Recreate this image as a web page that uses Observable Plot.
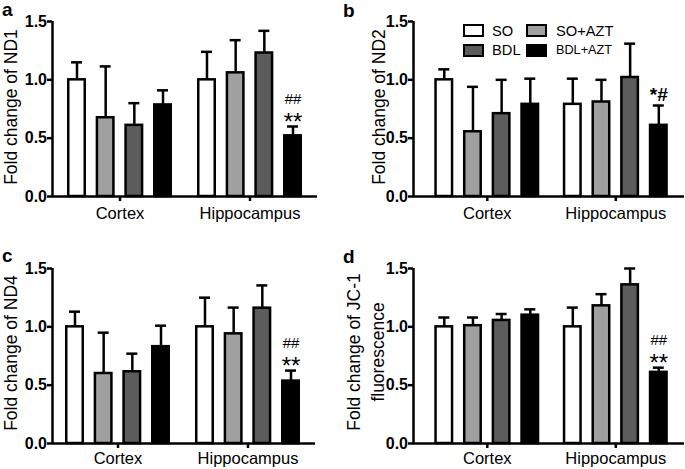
<!DOCTYPE html>
<html>
<head>
<meta charset="utf-8">
<script src="https://cdn.jsdelivr.net/npm/d3@7"></script>
<script src="https://cdn.jsdelivr.net/npm/@observablehq/plot@0.6"></script>
<style>
  body { margin: 0; background: #fff; }
  #fig { position: relative; width: 685px; height: 469px; background: #fff; overflow: hidden;
         font-family: 'Liberation Sans', Arial, Helvetica, sans-serif; color: #000; }
  .panel { position: absolute; }
  .letter { position: absolute; font-weight: bold; font-size: 19px; line-height: 19px; }
  .sw { position: absolute; box-sizing: border-box; width: 21px; height: 13px; border: 2.5px solid #000; }
  .lab { position: absolute; line-height: 16px; white-space: nowrap; }
</style>
</head>
<body>
<div id="fig"></div>
<script>
// ---------------- data ----------------
const tissues = ["Cortex", "Hippocampus"];
const groups = ["SO", "SO+AZT", "BDL", "BDL+AZT"];
const groupFills = ["#ffffff", "#a0a0a0", "#5c5c5c", "#000000"];
const yTicks = [0, 0.5, 1.0, 1.5];
const panelLetters = ["a", "b", "c", "d"];

// values indexed [tissue][group]
const nd1Mean = [[1.00, 0.675, 0.61, 0.785], [1.00, 1.06, 1.23, 0.52]];
const nd1Sem  = [[0.15, 0.44, 0.19, 0.125], [0.24, 0.28, 0.19, 0.08]];
const nd2Mean = [[1.00, 0.555, 0.71, 0.79], [0.79, 0.81, 1.02, 0.61]];
const nd2Sem  = [[0.09, 0.385, 0.29, 0.22], [0.22, 0.19, 0.29, 0.17]];
const nd4Mean = [[1.00, 0.60, 0.615, 0.83], [1.00, 0.94, 1.16, 0.535]];
const nd4Sem  = [[0.13, 0.35, 0.155, 0.18], [0.25, 0.225, 0.195, 0.09]];
const jc1Mean = [[1.00, 1.01, 1.055, 1.10], [1.00, 1.18, 1.36, 0.61]];
const jc1Sem  = [[0.08, 0.07, 0.055, 0.05], [0.165, 0.10, 0.14, 0.04]];

// significance marks: [tissue, group, star line, hash line]
const nd1Sig = [["Hippocampus", "BDL+AZT", "**", "##"]];
const nd2Sig = [["Hippocampus", "BDL+AZT", "*#", ""]];
const nd4Sig = [["Hippocampus", "BDL+AZT", "**", "##"]];
const jc1Sig = [["Hippocampus", "BDL+AZT", "**", "##"]];

const titles = ["Fold change of ND1", "Fold change of ND2", "Fold change of ND4", "Fold change of JC-1\nfluorescence"];

// ---------------- layout constants ----------------
const B = 105;      // band width holding the four bars
const W = 19;       // outer bar width
const S = (B - W) / 3; // bar step inside band
const SW = 2.5;     // stroke width
const CAP = 11;     // error cap width
const FONT = "'Liberation Sans', Arial, Helvetica, sans-serif";

const fig = document.getElementById("fig");

function makePanel(cfg) {
  const {mean, sem, sig, title, left, top, width, height, mt, mb, ml, mr, pi, po, align,
         titleDx, titleDy, tickPad} = cfg;
  const rows = tissues.flatMap((t, ti) => groups.map((g, gi) => ({
    tissue: t, group: g, gi, mean: mean[ti][gi], top: mean[ti][gi] + sem[ti][gi]
  })));
  const marks = [];
  groups.forEach((g, gi) => {
    const d = rows.filter(r => r.gi === gi);
    const off = gi * S + W / 2 - B / 2;
    marks.push(Plot.ruleX(d, {x: "tissue", y1: "mean", y2: "top", dx: off, stroke: "#000", strokeWidth: SW}));
    marks.push(Plot.tickY(d, {x: "tissue", y: "top", stroke: "#000", strokeWidth: SW,
      insetLeft: gi * S + W / 2 - CAP / 2, insetRight: B - (gi * S + W / 2 + CAP / 2)}));
    marks.push(Plot.barY(d, {x: "tissue", y: "mean", fill: groupFills[gi], stroke: "#000", strokeWidth: SW,
      insetLeft: gi * S + SW / 2, insetRight: (3 - gi) * S + SW / 2}));
  });
  // significance labels
  sig.forEach(([t, g, star, hash]) => {
    const gi = groups.indexOf(g);
    const r = rows.filter(d => d.tissue === t && d.group === g);
    const off = gi * S + W / 2 - B / 2;
    if (star === "*#") {
      marks.push(Plot.text(r, {x: "tissue", y: "top", text: () => star, dx: off, dy: -5,
        lineAnchor: "bottom", fontSize: 19, fontWeight: "bold", fill: "#000"}));
    } else {
      marks.push(Plot.text(r, {x: "tissue", y: "top", text: () => star, dx: off, dy: 3.5,
        lineAnchor: "bottom", fontSize: 24, fill: "#000"}));
      if (hash) marks.push(Plot.text(r, {x: "tissue", y: "top", text: () => hash, dx: off, dy: -23,
        lineAnchor: "bottom", fontSize: 15, fill: "#000"}));
    }
  });
  marks.push(Plot.ruleY([0], {stroke: "#000", strokeWidth: SW}));
  marks.push(Plot.ruleX([0], {x: null, dx: -(width - ml - mr) / 2, stroke: "#000", strokeWidth: SW}));
  // y axis: ticks from the axis mark, bold labels from a text mark on the y scale
  marks.push(Plot.axisY({ticks: yTicks, tickFormat: () => "", tickSize: 5, strokeWidth: SW, label: null}));
  marks.push(Plot.text(yTicks, {x: null, y: d => d, frameAnchor: "left", text: d3.format(".1f"),
    textAnchor: "end", dx: -5.5, fontSize: 16, fontWeight: "bold", fill: "#000"}));
  marks.push(Plot.axisX({tickSize: 5, tickPadding: tickPad, strokeWidth: SW, fontSize: 16.5, label: null}));
  marks.push(Plot.text([title], {x: null, y: null, frameAnchor: "left", text: d => d, rotate: -90,
    textAnchor: "middle", dx: titleDx, dy: titleDy, fontSize: 17.5, lineAnchor: "middle",
    lineHeight: 1.37, fill: "#000"}));

  const plot = Plot.plot({
    width, height, marginTop: mt, marginBottom: mb, marginLeft: ml, marginRight: mr,
    x: {domain: tissues, paddingInner: pi, paddingOuter: po, align, round: false},
    y: {domain: [0, 1.5]},
    style: {fontFamily: FONT, background: "transparent", color: "#000", overflow: "visible"},
    marks
  });
  plot.classList.add("panel");
  plot.style.left = left + "px";
  plot.style.top = top + "px";
  fig.appendChild(plot);
}

makePanel({mean: nd1Mean, sem: nd1Sem, sig: nd1Sig, title: titles[0], left: 0, top: 0, width: 342, height: 235,
  mt: 21, mb: 39, ml: 52, mr: 25, pi: 0.1923, po: 0.1154, align: 0.5, titleDx: -43.5, titleDy: -2, tickPad: 6});
makePanel({mean: nd2Mean, sem: nd2Sem, sig: nd2Sig, title: titles[1], left: 342, top: 0, width: 343, height: 235,
  mt: 21, mb: 39, ml: 71, mr: 1, pi: 0.1829, po: 0.1459, align: 0.568, titleDx: -36.5, titleDy: -2, tickPad: 6});
makePanel({mean: nd4Mean, sem: nd4Sem, sig: nd4Sig, title: titles[2], left: 0, top: 235, width: 342, height: 234,
  mt: 33, mb: 26, ml: 52, mr: 27, pi: 0.1923, po: 0.1077, align: 0.464, titleDx: -43.5, titleDy: -3, tickPad: 4});
makePanel({mean: jc1Mean, sem: jc1Sem, sig: jc1Sig, title: titles[3], left: 342, top: 235, width: 343, height: 234,
  mt: 33, mb: 26, ml: 71, mr: 1, pi: 0.1829, po: 0.1459, align: 0.568, titleDx: -49.5, titleDy: -4, tickPad: 4});

// panel letters
const letterPos = [[2, 0], [343, 1], [2, 246], [343, 247]];
panelLetters.forEach((l, i) => {
  const el = document.createElement("div");
  el.className = "letter";
  el.textContent = l;
  el.style.left = letterPos[i][0] + "px";
  el.style.top = letterPos[i][1] + "px";
  fig.appendChild(el);
});

// legend (inside panel b)
groups.forEach((g, i) => {
  const col = i % 2, row = Math.floor(i / 2);
  const sw = document.createElement("div");
  sw.className = "sw";
  sw.style.background = groupFills[i];
  sw.style.left = (463 + col * 63) + "px";
  sw.style.top = (24 + row * 20) + "px";
  fig.appendChild(sw);
  const lab = document.createElement("div");
  lab.className = "lab";
  lab.textContent = g;
  lab.style.fontSize = (i === 3 ? 12.7 : 14.7) + "px";
  lab.style.left = (492 + col * 64) + "px";
  lab.style.top = (30.5 + row * 19.5 - 8) + "px";
  fig.appendChild(lab);
});
</script>
</body>
</html>
